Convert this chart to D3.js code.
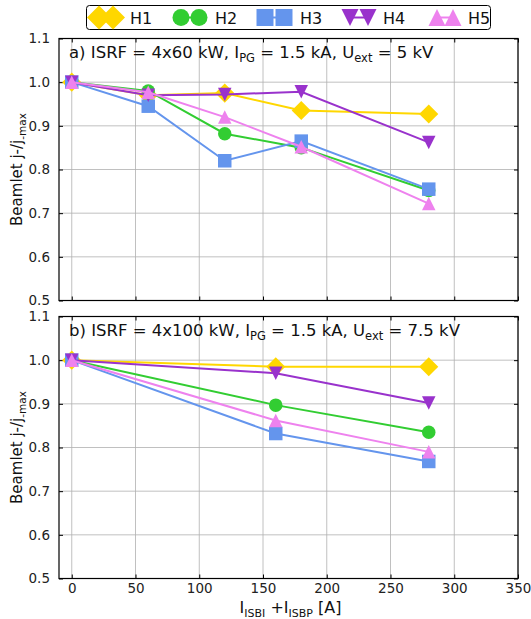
<!DOCTYPE html>
<html>
<head>
<meta charset="utf-8">
<script src="https://cdn.jsdelivr.net/npm/d3@7"></script>
<style>
  html, body { margin: 0; padding: 0; background: #fff; }
  svg { display: block; font-family: "DejaVu Sans", sans-serif; }
</style>
</head>
<body>
<svg id="chart" width="531" height="619"></svg>
<script>
// Series names, colours and marker shapes
const seriesNames = ["H1", "H2", "H3", "H4", "H5"];
const seriesColors = ["#FFD700", "#32CD32", "#6495ED", "#9932CC", "#EE82EE"];
const seriesShapes = ["diamond", "circle", "square", "triangleDown", "triangleUp"];

// Panel a) ISRF = 4x60 kW
const xA = [0, 60, 120, 180, 280];
const aH1 = [1.0, 0.970, 0.975, 0.935, 0.927];
const aH2 = [1.0, 0.980, 0.882, 0.850, 0.752];
const aH3 = [1.0, 0.945, 0.820, 0.865, 0.755];
const aH4 = [1.0, 0.970, 0.972, 0.978, 0.862];
const aH5 = [1.0, 0.977, 0.920, 0.852, 0.722];

// Panel b) ISRF = 4x100 kW
const xB = [0, 160, 280];
const bH1 = [1.0, 0.985, 0.985];
const bH2 = [1.0, 0.897, 0.835];
const bH3 = [1.0, 0.832, 0.768];
const bH4 = [1.0, 0.970, 0.902];
const bH5 = [1.0, 0.862, 0.790];

// Axis ticks
const xTicks = [0, 50, 100, 150, 200, 250, 300, 350];
const yTicks = [0.5, 0.6, 0.7, 0.8, 0.9, 1.0, 1.1];

const svg = d3.select("#chart");
const left = 59, right = 518;
const panels = [
  { top: 38.5, bottom: 300.5, xs: xA, ys: [aH1, aH2, aH3, aH4, aH5],
    label: [["a) ISRF = 4x60 kW, I", ""], ["PG", "sub"], [" = 1.5 kA, U", ""], ["ext", "sub"], [" = 5 kV", ""]] },
  { top: 316.5, bottom: 578.5, xs: xB, ys: [bH1, bH2, bH3, bH4, bH5],
    label: [["b) ISRF = 4x100 kW, I", ""], ["PG", "sub"], [" = 1.5 kA, U", ""], ["ext", "sub"], [" = 7.5 kV", ""]] }
];

const x = d3.scaleLinear().domain([-10, 350]).range([left, right]);

// Marker outline for a given shape and marker size (width of the shape box)
function markerPath(shape, ms) {
  const h = ms / 2;
  const p = d3.path();
  if (shape === "circle") { p.arc(0, 0, h, 0, 2 * Math.PI); }
  else if (shape === "square") { p.rect(-h, -h, ms, ms); }
  else if (shape === "diamond") {
    const r = h * Math.SQRT2;
    p.moveTo(0, -r); p.lineTo(r, 0); p.lineTo(0, r); p.lineTo(-r, 0); p.closePath();
  } else if (shape === "triangleUp") {
    p.moveTo(0, -h); p.lineTo(h, h); p.lineTo(-h, h); p.closePath();
  } else {
    p.moveTo(0, h); p.lineTo(h, -h); p.lineTo(-h, -h); p.closePath();
  }
  return p.toString();
}
const ms = 13.5, legendMs = 17;

panels.forEach((p, pi) => {
  const y = d3.scaleLinear().domain([0.5, 1.1]).range([p.bottom, p.top]);
  const g = svg.append("g");

  // grid
  g.selectAll("line.vg").data(xTicks).join("line")
    .attr("x1", d => x(d)).attr("x2", d => x(d))
    .attr("y1", p.top).attr("y2", p.bottom)
    .attr("stroke", "#b0b0b0").attr("stroke-width", 0.8);
  g.selectAll("line.hg").data(yTicks).join("line")
    .attr("x1", left).attr("x2", right)
    .attr("y1", d => y(d)).attr("y2", d => y(d))
    .attr("stroke", "#b0b0b0").attr("stroke-width", 0.8);

  // axes with inward ticks
  const yAxis = d3.axisLeft(y).tickValues(yTicks).tickFormat(d3.format(".1f")).tickSizeInner(-4).tickSizeOuter(0).tickPadding(9);
  const ga = g.append("g").attr("transform", `translate(${left},0)`).call(yAxis);
  ga.select(".domain").remove();
  ga.selectAll("text").attr("font-size", 13.5).attr("fill", "#222").attr("font-family", "DejaVu Sans");
  ga.selectAll("line").attr("stroke", "#000");
  const gr = g.append("g").attr("transform", `translate(${right},0)`).call(d3.axisRight(y).tickValues(yTicks).tickSizeInner(-4).tickSizeOuter(0).tickFormat(""));
  gr.select(".domain").remove();

  const xb = g.append("g").attr("transform", `translate(0,${p.bottom})`)
    .call(d3.axisBottom(x).tickValues(xTicks).tickSizeInner(-4).tickSizeOuter(0).tickPadding(4.5)
      .tickFormat(pi === 1 ? d3.format("d") : ""));
  xb.select(".domain").remove();
  xb.selectAll("text").attr("font-size", 13.5).attr("fill", "#222").attr("font-family", "DejaVu Sans");
  const xt = g.append("g").attr("transform", `translate(0,${p.top})`)
    .call(d3.axisTop(x).tickValues(xTicks).tickSizeInner(-4).tickSizeOuter(0).tickFormat(""));
  xt.select(".domain").remove();

  // frame
  g.append("rect").attr("x", left).attr("y", p.top).attr("width", right - left).attr("height", p.bottom - p.top)
    .attr("fill", "none").attr("stroke", "#000").attr("stroke-width", 1.2);

  // series
  p.ys.forEach((vals, si) => {
    const pts = p.xs.map((xv, i) => [xv, vals[i]]);
    g.append("path").datum(pts)
      .attr("d", d3.line().x(d => x(d[0])).y(d => y(d[1])))
      .attr("fill", "none").attr("stroke", seriesColors[si]).attr("stroke-width", 2);
    g.selectAll(null).data(pts).join("path")
      .attr("d", markerPath(seriesShapes[si], ms))
      .attr("transform", d => `translate(${x(d[0])},${y(d[1])})`)
      .attr("fill", seriesColors[si]);
  });

  // panel annotation
  const t = g.append("text").attr("x", 69).attr("y", p.top + 19).attr("font-size", 16.5).attr("fill", "#111");
  p.label.forEach(([s, kind], k) => {
    const ts = t.append("tspan").text(s);
    if (kind === "sub") ts.attr("font-size", 11.5).attr("dy", 4);
    else if (k > 0) ts.attr("dy", -4);
  });

  // y label
  const yl = svg.append("text")
    .attr("transform", `translate(22,${(p.top + p.bottom) / 2}) rotate(-90)`)
    .attr("text-anchor", "middle").attr("font-size", 15).attr("fill", "#111");
  yl.append("tspan").text("Beamlet j-/j");
  yl.append("tspan").text("-max").attr("font-size", 10.5).attr("dy", 4);
});

// x label
const xl = svg.append("text").attr("x", (left + right) / 2 + 2).attr("y", 613)
  .attr("text-anchor", "middle").attr("font-size", 16).attr("fill", "#111");
xl.append("tspan").text("I");
xl.append("tspan").text("ISBI").attr("font-size", 11).attr("dy", 4);
xl.append("tspan").text(" +I").attr("dy", -4);
xl.append("tspan").text("ISBP").attr("font-size", 11).attr("dy", 4);
xl.append("tspan").text(" [A]").attr("dy", -4);

// legend
const lg = svg.append("g");
lg.append("rect").attr("x", 86.5).attr("y", 5.5).attr("width", 404).attr("height", 24).attr("rx", 3)
  .attr("fill", "#fff").attr("stroke", "#000").attr("stroke-width", 1);
const legendA = [99, 181, 265, 350, 437];
const legendB = [113, 199, 284, 368, 453];
const legendText = [130, 215, 300, 383, 468];
seriesNames.forEach((name, si) => {
  const x0 = legendA[si], x1 = legendB[si], cy = 17.5;
  lg.append("line").attr("x1", x0).attr("x2", x1).attr("y1", cy).attr("y2", cy)
    .attr("stroke", seriesColors[si]).attr("stroke-width", 2);
  [x0, x1].forEach(px => {
    lg.append("path").attr("d", markerPath(seriesShapes[si], legendMs))
      .attr("transform", `translate(${px},${cy})`)
      .attr("fill", seriesColors[si]);
  });
  lg.append("text").attr("x", legendText[si]).attr("y", cy + 6).attr("font-size", 16).attr("fill", "#111").text(name);
});
</script>
</body>
</html>
